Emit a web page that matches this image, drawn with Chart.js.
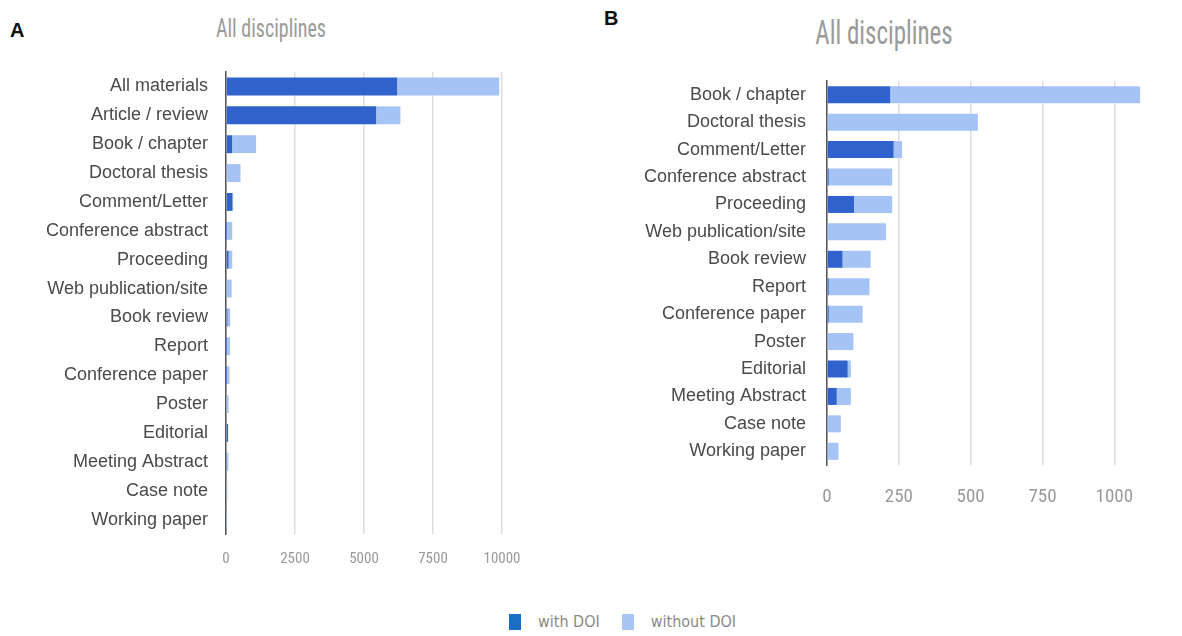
<!DOCTYPE html>
<html>
<head>
<meta charset="utf-8">
<script src="https://cdn.jsdelivr.net/npm/chart.js@4/dist/chart.umd.min.js"></script>
<style>
  body { margin: 0; background: #fff; width: 1182px; height: 636px; position: relative; overflow: hidden; }
  .panel { position: absolute; top: 0; }
  .letter { position: absolute; font-family: 'Liberation Sans', Arial, sans-serif; font-weight: bold; font-size: 20px; color: #111; }
  .title { position: absolute; font-family: 'Liberation Sans Narrow', 'Roboto Condensed', 'DejaVu Sans Condensed', sans-serif; color: #9a9a9a; white-space: nowrap; transform: translateX(-50%) scaleY(1.3); transform-origin: center top; }
  .legend { position: absolute; top: 612px; left: 509px; font-family: 'Liberation Sans Narrow', 'DejaVu Sans Condensed', sans-serif; font-size: 16px; color: #8a8a8a; display: flex; align-items: center; }
  .legend span.box { display: inline-block; width: 12px; height: 16px; margin-right: 17px; }
</style>
</head>
<body>
<div class="letter" style="left:10px; top:19px;">A</div>
<div class="letter" style="left:604px; top:7px;">B</div>
<div class="title" style="left:271px; top:12px; font-size:20px;">All disciplines</div>
<div class="title" style="left:884px; top:14px; font-size:25px;">All disciplines</div>

<div class="panel" style="left:0; width:560px; height:600px;"><canvas id="chartA" width="560" height="600"></canvas></div>
<div class="panel" style="left:600px; width:582px; height:600px;"><canvas id="chartB" width="582" height="600"></canvas></div>

<div class="legend">
  <span class="box" style="background:#1b6fc2;"></span><span style="margin-right:22px;">with DOI</span>
  <span class="box" style="background:#a8c4f2;"></span><span>without DOI</span>
</div>

<script>
// Panel A: all materials
const categoriesA = ['All materials', 'Article / review', 'Book / chapter', 'Doctoral thesis', 'Comment/Letter',
    'Conference abstract', 'Proceeding', 'Web publication/site', 'Book review', 'Report',
    'Conference paper', 'Poster', 'Editorial', 'Meeting Abstract', 'Case note', 'Working paper'];
const withDoiA = [6200, 5440, 220, 0, 232, 6, 94, 0, 54, 6, 6, 0, 72, 34, 0, 0];
const withoutDoiA = [3700, 880, 870, 525, 29, 221, 133, 205, 98, 142, 118, 92, 11, 49, 48, 40];
const ticksA = [0, 2500, 5000, 7500, 10000];

// Panel B: everything except articles
const categoriesB = ['Book / chapter', 'Doctoral thesis', 'Comment/Letter', 'Conference abstract', 'Proceeding',
    'Web publication/site', 'Book review', 'Report', 'Conference paper', 'Poster',
    'Editorial', 'Meeting Abstract', 'Case note', 'Working paper'];
const withDoiB = [220, 0, 232, 6, 94, 0, 54, 6, 6, 0, 72, 34, 0, 0];
const withoutDoiB = [870, 525, 29, 221, 133, 205, 98, 142, 118, 92, 11, 49, 48, 40];
const ticksB = [0, 250, 500, 750, 1000];

const darkBlue = '#2f62cc';
const lightBlue = '#a6c3f5';
const narrowFont = "'Liberation Sans Narrow', 'Roboto Condensed', 'DejaVu Sans Condensed', sans-serif";

function makeChart(id, labels, withDoi, withoutDoi, tickValues, opts) {
    const ctx = document.getElementById(id).getContext('2d');
    return new Chart(ctx, {
        type: 'bar',
        data: {
            labels: labels,
            datasets: [
                { label: 'with DOI', data: withDoi, backgroundColor: darkBlue, borderWidth: 0,
                  barPercentage: 0.62, categoryPercentage: 1 },
                { label: 'without DOI', data: withoutDoi, backgroundColor: lightBlue, borderWidth: 0,
                  barPercentage: 0.62, categoryPercentage: 1 },
            ],
        },
        options: {
            indexAxis: 'y',
            responsive: false,
            animation: false,
            layout: { padding: opts.padding },
            plugins: { legend: { display: false }, tooltip: { enabled: false } },
            scales: {
                x: {
                    stacked: true,
                    min: 0,
                    max: opts.max,
                    afterBuildTicks: (scale) => {
                        scale.ticks = tickValues.map((v) => ({ value: v }));
                    },
                    afterFit: (scale) => { scale.height = opts.xHeight; },
                    grid: { color: '#dedede', lineWidth: 1.5, drawTicks: false },
                    border: { display: false },
                    ticks: {
                        padding: opts.tickPad,
                        color: '#999',
                        font: { family: narrowFont, size: opts.tickSize },
                        maxRotation: 0,
                        callback: (value) => String(value),
                    },
                },
                y: {
                    stacked: true,
                    afterFit: (scale) => { scale.width = opts.yWidth; },
                    grid: { display: false, drawTicks: false },
                    border: { display: true, color: '#555', width: 1.5 },
                    ticks: {
                        padding: opts.labelPad,
                        color: '#4a4a4a',
                        font: { family: "'Liberation Sans', Arial, sans-serif", size: 18 },
                        autoSkip: false,
                    },
                },
            },
        },
    });
}

makeChart('chartA', categoriesA, withDoiA, withoutDoiA, ticksA, {
    max: 10000,
    padding: { left: 0, top: 72, right: 58, bottom: 26 },
    yWidth: 226, xHeight: 40, tickPad: 16, tickSize: 15, labelPad: 18,
});

makeChart('chartB', categoriesB, withDoiB, withoutDoiB, ticksB, {
    max: 1100,
    padding: { left: 0, top: 81, right: 39, bottom: 95 },
    yWidth: 227, xHeight: 40, tickPad: 21, tickSize: 19, labelPad: 21,
});
</script>
</body>
</html>
